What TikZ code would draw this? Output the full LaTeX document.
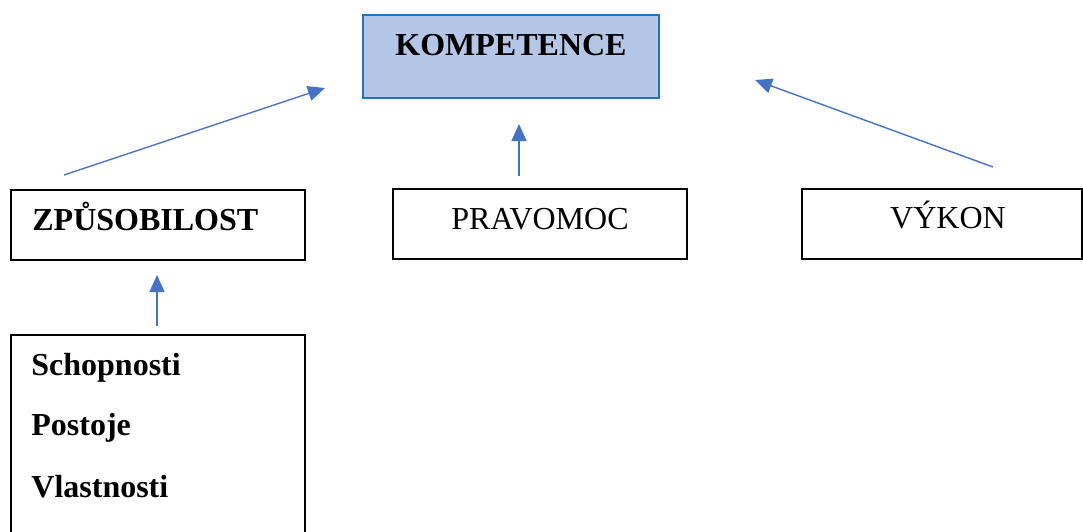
\documentclass[tikz,border=0pt]{standalone}
\usepackage{fontspec}
\setmainfont{Liberation Serif}
\usetikzlibrary{arrows.meta}
\definecolor{kfill}{HTML}{B4C7E7}
\definecolor{kdraw}{HTML}{1F74C4}
\definecolor{arr}{HTML}{4472C4}
\tikzset{
  box/.style={draw=black, line width=1pt, inner sep=0pt, outer sep=0pt, anchor=north west},
  topbox/.style={draw=kdraw, fill=kfill, line width=1.4pt, inner sep=0pt, outer sep=0pt, anchor=north west},
  lbl/.style={inner sep=0pt, font=\fontsize{16}{19}\selectfont},
  blbl/.style={lbl, font=\fontsize{16}{19}\selectfont\bfseries},
  conn/.style={draw=arr, line width=0.7pt, -{Triangle[length=8.5pt,width=7.5pt]}}
}
\begin{document}
\begin{tikzpicture}[x=0.5pt,y=-0.5pt]
\useasboundingbox (0,0) rectangle (1083,531);
\clip (0,0) rectangle (1083,531);
% boxes
\node[topbox, minimum width=148pt, minimum height=41.5pt] (komp) at (363,15) {};
\node[box, minimum width=147pt, minimum height=35pt] (zpu) at (11,190) {};
\node[box, minimum width=147pt, minimum height=35pt] (prav) at (393,189) {};
\node[box, minimum width=140pt, minimum height=35pt] (vyk) at (802,189) {};
\node[box, minimum width=147pt, minimum height=110pt] (schop) at (11,335) {};
% texts
\node[blbl, anchor=base] (kompt) at (511,55) {KOMPETENCE};
\node[blbl, anchor=base west] (zput) at (32,230) {ZPŮSOBILOST};
\node[lbl, anchor=base] (pravt) at (540,229) {PRAVOMOC};
\node[lbl, anchor=base] (vykt) at (948,228) {VÝKON};
\node[blbl, anchor=base west] (s1) at (31,375) {Schopnosti};
\node[blbl, anchor=base west] (s2) at (31,435) {Postoje};
\node[blbl, anchor=base west] (s3) at (31,497) {Vlastnosti};
% connector end points
\coordinate (a1s) at (64,175);
\coordinate (a1e) at (325,88);
\coordinate (a2s) at (519,176);
\coordinate (a2e) at (519,124);
\coordinate (a3s) at (993,167);
\coordinate (a3e) at (755,80);
\coordinate (a4s) at (157,326);
\coordinate (a4e) at (157,275);
\draw[conn] (a1s) -- (a1e);
\draw[conn] (a2s) -- (a2e);
\draw[conn] (a3s) -- (a3e);
\draw[conn] (a4s) -- (a4e);
\end{tikzpicture}
\end{document}
